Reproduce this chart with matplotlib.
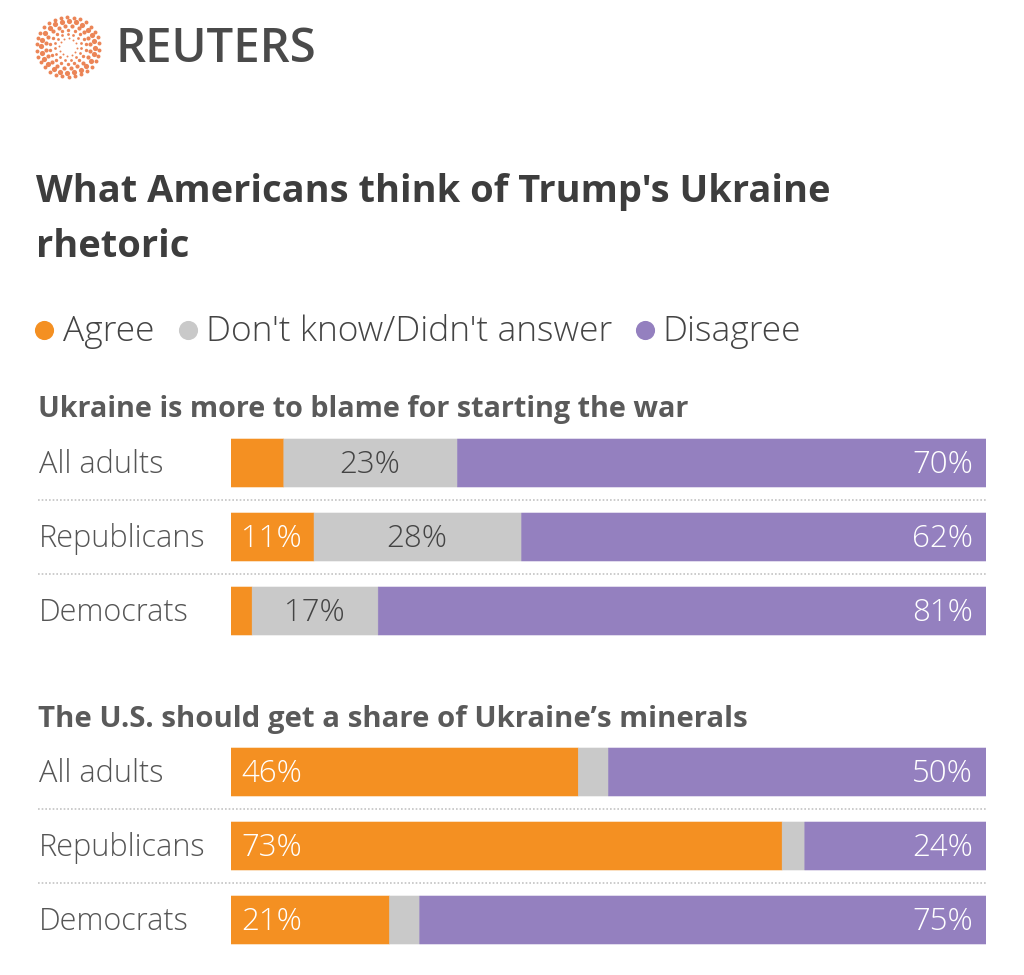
import numpy as np
import matplotlib
matplotlib.use("Agg")
import matplotlib.pyplot as plt

W, H = 1024, 975
TITLE_FONT = ["Open Sans", "DejaVu Sans"]
BODY_FONT = ["Open Sans", "DejaVu Sans"]

groups = ["All adults", "Republicans", "Democrats"]
series = ["Agree", "Don't know/Didn't answer", "Disagree"]
colors = ["#F49022", "#C9C9C9", "#9480BF"]
label_colors = ["#FFFFFF", "#444444", "#FFFFFF"]

question_1 = "Ukraine is more to blame for starting the war"
agree_1 = [7, 11, 2.8]
dontknow_1 = [23, 27.5, 16.7]
disagree_1 = [70, 61.5, 80.5]
agree_1_labels = ["", "11%", ""]
dontknow_1_labels = ["23%", "28%", "17%"]
disagree_1_labels = ["70%", "62%", "81%"]

question_2 = "The U.S. should get a share of Ukraine\u2019s minerals"
agree_2 = [46, 73, 21]
dontknow_2 = [4, 3, 4]
disagree_2 = [50, 24, 75]
agree_2_labels = ["46%", "73%", "21%"]
dontknow_2_labels = ["", "", ""]
disagree_2_labels = ["50%", "24%", "75%"]

fig = plt.figure(figsize=(W / 100, H / 100), dpi=100, facecolor="white")

bg = fig.add_axes([0, 0, 1, 1])
bg.set_xlim(0, W)
bg.set_ylim(H, 0)
bg.axis("off")


def panel(top, vals, labels):
    ax = fig.add_axes([231 / W, 1 - (top + 222) / H, 755 / W, 222 / H])
    ax.set_xlim(0, 1)
    ax.set_ylim(2.5, -0.5)
    ax.axis("off")
    vals = np.array(vals, dtype=float)
    totals = vals.sum(axis=0)
    left = np.zeros(3)
    for k in range(3):
        share = vals[k] / totals
        ax.barh(range(3), share, left=left, height=48 / 74, color=colors[k],
                edgecolor=colors[k], linewidth=0.4, snap=False)
        for i, lab in enumerate(labels[k]):
            if not lab:
                continue
            if k == 0:
                x, ha = left[i] + 10 / 755, "left"
            elif k == 1:
                x, ha = left[i] + share[i] / 2 - 1 / 755, "center"
            else:
                x, ha = 1 - 13 / 755, "right"
            ax.text(x, i + 2 / 74, lab, ha=ha, va="center", color=label_colors[k],
                    fontsize=22.5, family=BODY_FONT, fontweight=300)
        left = left + share


panel(426, [agree_1, dontknow_1, disagree_1],
      [agree_1_labels, dontknow_1_labels, disagree_1_labels])
panel(735, [agree_2, dontknow_2, disagree_2],
      [agree_2_labels, dontknow_2_labels, disagree_2_labels])

for centres, seps in (((465, 539, 613), (500, 574)), ((774, 848, 922), (809, 883))):
    for g, yc in zip(groups, centres):
        bg.text(39, yc, g, ha="left", va="center", fontsize=22.1, color="#555555",
                family=BODY_FONT, fontweight=300)
    for y in seps:
        bg.plot([38, 986], [y, y], color="#C4C4C4", lw=1.2, ls=(0, (1, 1.2)))

bg.text(38, 410, question_1, ha="left", va="center", fontsize=20.7, fontweight="bold",
        color="#5A5A5A", family=TITLE_FONT)
bg.text(38, 719, question_2, ha="left", va="center", fontsize=21.2, fontweight="bold",
        color="#5A5A5A", family=TITLE_FONT)

bg.text(36, 192, "What Americans think of Trump's Ukraine", ha="left", va="center",
        fontsize=27.4, fontweight="bold", color="#3D3D3D", family=TITLE_FONT)
bg.text(36, 247, "rhetoric", ha="left", va="center",
        fontsize=27.4, fontweight="bold", color="#3D3D3D", family=TITLE_FONT)

for lab, dot_x, txt_x, c in zip(series, (44, 188, 645), (63, 206, 662), colors):
    bg.scatter([dot_x], [330], s=190, color=c, linewidths=0)
    bg.text(txt_x, 332, lab, ha="left", va="center", fontsize=25.5, color="#444444",
            family=BODY_FONT, fontweight=300)

cx, cy = 68, 47
for r, n, s in ((9, 12, 2), (13.5, 15, 4), (18, 18, 6), (22.5, 20, 9), (27, 24, 14), (31.5, 30, 8)):
    for j in range(n):
        a = 2 * np.pi * j / n + r
        bg.scatter(cx + r * np.cos(a), cy + r * np.sin(a) * 0.95, s=s,
                   color="#E8703A", alpha=0.85, linewidths=0)
bg.text(116, 50, "REUTERS", ha="left", va="center", fontsize=34, color="#4A4A4A",
        family=BODY_FONT, fontweight=600)

fig.savefig("out.png", dpi=100)
